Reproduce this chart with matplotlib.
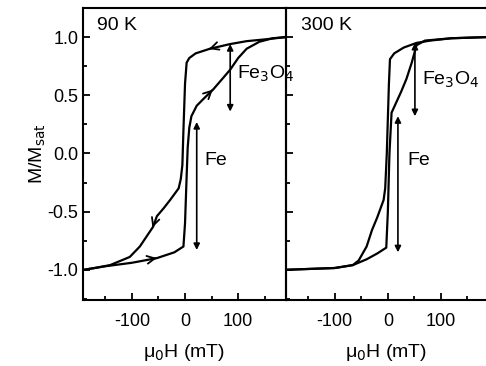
import matplotlib
matplotlib.use("Agg")
import matplotlib.pyplot as plt
from matplotlib.ticker import MultipleLocator

plt.rcParams['font.family'] = ['Liberation Sans', 'DejaVu Sans']
plt.rcParams['axes.unicode_minus'] = False

# 90 K loop
h90_down = [190, 150, 116, 85, 47, 20, 8, 3, 0, -3, -5, -8, -12, -20, -28, -40, -53, -60, -85, -104, -141, -170, -190]
m90_down = [1.0, 0.98, 0.965, 0.94, 0.90, 0.86, 0.82, 0.78, 0.6, 0.2, -0.1, -0.22, -0.30, -0.35, -0.40, -0.47, -0.54, -0.63, -0.80, -0.89, -0.96, -0.985, -1.0]
h90_up = [-190, -150, -100, -53, -20, -3, 0, 3, 5, 8, 12, 22, 35, 53, 70, 85, 100, 116, 140, 165, 190]
m90_up = [-1.0, -0.97, -0.94, -0.90, -0.85, -0.80, -0.6, -0.2, 0.05, 0.22, 0.32, 0.41, 0.47, 0.55, 0.64, 0.72, 0.82, 0.90, 0.96, 0.99, 1.0]

# 300 K loop
h300_down = [188, 120, 80, 54, 30, 12, 4, 2, -2, -5, -8, -20, -30, -40, -55, -66, -100, -190]
m300_down = [1.0, 0.99, 0.97, 0.95, 0.91, 0.86, 0.81, 0.6, 0.0, -0.3, -0.4, -0.55, -0.66, -0.80, -0.92, -0.96, -0.985, -1.0]
h300_up = [-190, -100, -66, -40, -20, -3, 0, 3, 7, 16, 25, 35, 45, 54, 70, 120, 188]
m300_up = [-1.0, -0.985, -0.96, -0.91, -0.86, -0.81, -0.5, 0.0, 0.35, 0.44, 0.53, 0.64, 0.78, 0.93, 0.97, 0.99, 1.0]

# double arrows: (H, M_top, M_bottom)
arrows90 = {"Fe$_3$O$_4$": (85, 0.94, 0.36), "Fe": (22, 0.27, -0.83)}
arrows300 = {"Fe$_3$O$_4$": (51, 0.95, 0.32), "Fe": (19, 0.32, -0.85)}

fig = plt.figure(figsize=(4.86, 3.66), dpi=100)
ax1 = fig.add_axes([83/486, 66/366, 203/486, 292/366])
ax2 = fig.add_axes([286/486, 66/366, 200/486, 292/366])

lw = 1.6
for ax in (ax1, ax2):
    ax.set_xlim(-192, 190)
    ax.set_ylim(-1.26, 1.25)
    ax.xaxis.set_major_locator(MultipleLocator(100))
    ax.xaxis.set_minor_locator(MultipleLocator(50))
    ax.yaxis.set_major_locator(MultipleLocator(0.5))
    ax.yaxis.set_minor_locator(MultipleLocator(0.25))
    ax.tick_params(which='both', direction='in', width=1.3, labelsize=13)
    ax.tick_params(axis='x', pad=9)
    ax.tick_params(which='major', length=5)
    ax.tick_params(which='minor', length=3)
    for s in ax.spines.values():
        s.set_linewidth(1.5)
    ax.set_xlabel("\u03bc$_0$H (mT)", fontsize=14, labelpad=9)

ax2.set_xlim(-192, 185)
ax2.patch.set_visible(False)
ax2.spines['right'].set_visible(False)
ax2.tick_params(axis='y', labelleft=False)

ax1.set_ylabel("M/M$_{\\rm sat}$", fontsize=14)
ax1.yaxis.set_label_coords(-0.17, 0.5)
ax1.set_yticks([-1.0, -0.5, 0.0, 0.5, 1.0])
ax1.set_yticklabels(["-1.0", "-0.5", "0.0", "0.5", "1.0"])

ax1.plot(h90_down, m90_down, color='black', lw=lw)
ax1.plot(h90_up, m90_up, color='black', lw=lw)
ax2.plot(h300_down, m300_down, color='black', lw=lw)
ax2.plot(h300_up, m300_up, color='black', lw=lw)

# branch direction chevrons on 90 K loop
for (x0, y0), (x1, y1) in [((50, 0.905), (40, 0.89)), ((-57, -0.58), (-63, -0.66)),
                           ((-60, -0.905), (-48, -0.895)), ((48, 0.53), (56, 0.565))]:
    ax1.annotate("", xy=(x1, y1), xytext=(x0, y0),
                 arrowprops=dict(arrowstyle='->', color='black', lw=1.3, mutation_scale=14))

def draw_arrows(ax, arrows):
    for name, (h, top, bot) in arrows.items():
        ax.annotate("", xy=(h, bot), xytext=(h, top),
                    arrowprops=dict(arrowstyle='<|-|>', color='black', lw=1.2,
                                    mutation_scale=9, shrinkA=0, shrinkB=0))

draw_arrows(ax1, arrows90)
draw_arrows(ax2, arrows300)

ax1.text(-165, 1.03, "90 K", fontsize=14, va='bottom')
ax1.text(97, 0.68, "Fe$_3$O$_4$", fontsize=14, va='center', clip_on=False)
ax1.text(37, -0.06, "Fe", fontsize=14, va='center')
ax2.text(-163, 1.03, "300 K", fontsize=14, va='bottom')
ax2.text(65, 0.63, "Fe$_3$O$_4$", fontsize=14, va='center')
ax2.text(36, -0.06, "Fe", fontsize=14, va='center')

fig.savefig("out.png", dpi=100)
